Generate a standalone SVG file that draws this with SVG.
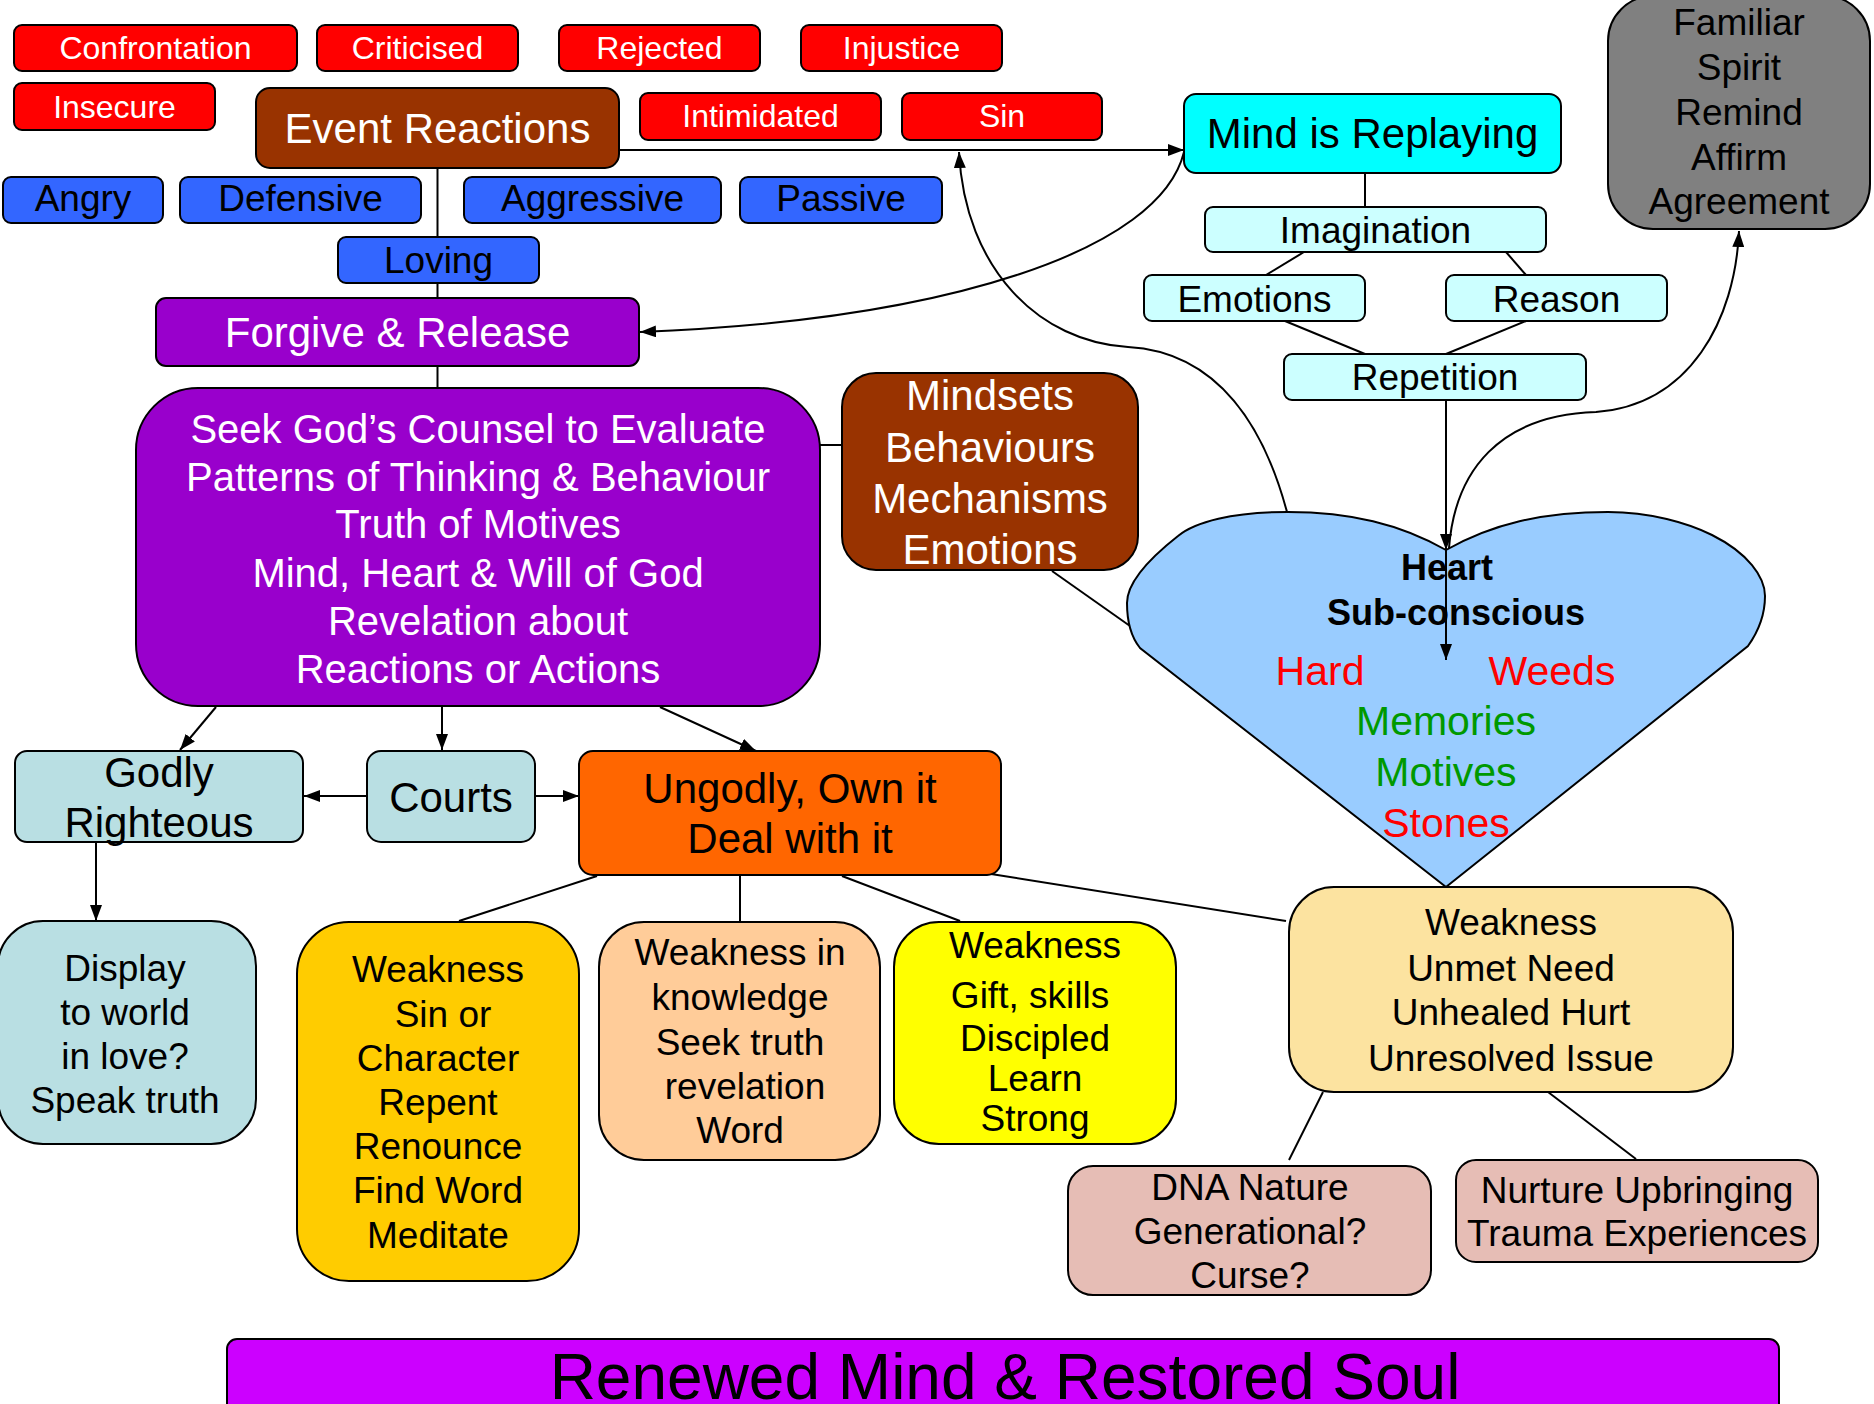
<svg xmlns="http://www.w3.org/2000/svg" width="1874" height="1404" viewBox="0 0 1874 1404">
<style>
.n{stroke:#000;stroke-width:2}
.t{font-family:"Liberation Sans",Arial,sans-serif;text-anchor:middle}
.w{fill:#fff}
.k{fill:#000}
.s32{font-size:32px}
.s37{font-size:37px}
.s40{font-size:40px}
.s42{font-size:42px}
.c{stroke:#000;stroke-width:2;fill:none}
.red{fill:#FF0000}
.blue{fill:#3366FF}
.lc{fill:#CCFFFF}
.tl{fill:#B9DFE3}
</style>
<defs>
<marker id="ah" viewBox="0 0 10 10" refX="10" refY="5" markerWidth="16" markerHeight="12" markerUnits="userSpaceOnUse" orient="auto" preserveAspectRatio="none"><path d="M0,0 L10,5 L0,10 z" fill="#000"/></marker>
</defs>
<rect width="1874" height="1404" fill="#fff"/>

<g id="connectors">
<line class="c" x1="437.5" y1="168" x2="437.5" y2="237"/>
<line class="c" x1="437.5" y1="283" x2="437.5" y2="298"/>
<line class="c" x1="437.5" y1="366" x2="437.5" y2="388"/>
<line class="c" x1="619" y1="150" x2="1184" y2="150" marker-end="url(#ah)"/>
<path class="c" d="M1184,152 C1160,250 950,320 640,332" marker-end="url(#ah)"/>
<path class="c" d="M1287,512 C1265,430 1220,352 1128,347 C1040,342 965,270 959,152" marker-end="url(#ah)"/>
<line class="c" x1="1365" y1="173" x2="1365" y2="207"/>
<line class="c" x1="1304" y1="252" x2="1266" y2="275"/>
<line class="c" x1="1506" y1="252" x2="1526" y2="275"/>
<line class="c" x1="1285" y1="321" x2="1365" y2="354"/>
<line class="c" x1="1526" y1="321" x2="1446" y2="354"/>
<line class="c" x1="1446" y1="400" x2="1446" y2="550" marker-end="url(#ah)"/>
<path class="c" d="M1449,548 C1455,470 1500,415 1596,412 C1690,405 1735,320 1739,231" marker-end="url(#ah)"/>
<line class="c" x1="820" y1="445" x2="842" y2="445"/>
<line class="c" x1="1052" y1="571" x2="1130" y2="626"/>
<line class="c" x1="216" y1="707" x2="180" y2="750" marker-end="url(#ah)"/>
<line class="c" x1="442" y1="707" x2="442" y2="750" marker-end="url(#ah)"/>
<line class="c" x1="660" y1="707" x2="756" y2="751" marker-end="url(#ah)"/>
<line class="c" x1="367" y1="796" x2="304" y2="796" marker-end="url(#ah)"/>
<line class="c" x1="535" y1="796" x2="579" y2="796" marker-end="url(#ah)"/>
<line class="c" x1="96" y1="842" x2="96" y2="921" marker-end="url(#ah)"/>
<line class="c" x1="597" y1="876" x2="459" y2="921"/>
<line class="c" x1="740" y1="876" x2="740" y2="921"/>
<line class="c" x1="842" y1="876" x2="960" y2="921"/>
<line class="c" x1="991" y1="874" x2="1286" y2="921"/>
<line class="c" x1="1323" y1="1092" x2="1289" y2="1160"/>
<line class="c" x1="1548" y1="1092" x2="1636" y2="1159"/>
</g>

<g id="confrontation"><rect class="n red" x="14" y="25" width="283" height="46" rx="8"/><text class="t w s32" x="155.5" y="59">Confrontation</text></g>
<g id="criticised"><rect class="n red" x="317" y="25" width="201" height="46" rx="8"/><text class="t w s32" x="417.5" y="59">Criticised</text></g>
<g id="rejected"><rect class="n red" x="559" y="25" width="201" height="46" rx="8"/><text class="t w s32" x="659.5" y="59">Rejected</text></g>
<g id="injustice"><rect class="n red" x="801" y="25" width="201" height="46" rx="8"/><text class="t w s32" x="901.5" y="59">Injustice</text></g>
<g id="insecure"><rect class="n red" x="14" y="83" width="201" height="47" rx="8"/><text class="t w s32" x="114.5" y="118">Insecure</text></g>
<g id="intimidated"><rect class="n red" x="640" y="93" width="241" height="47" rx="8"/><text class="t w s32" x="760.5" y="127">Intimidated</text></g>
<g id="sin"><rect class="n red" x="902" y="93" width="200" height="47" rx="8"/><text class="t w s32" x="1002" y="127">Sin</text></g>
<g id="event-reactions"><rect class="n" fill="#993300" x="256" y="88" width="363" height="80" rx="14"/><text class="t w s42" x="437.5" y="143">Event Reactions</text></g>

<g id="angry"><rect class="n blue" x="3" y="177" width="160" height="46" rx="8"/><text class="t k s37" x="83" y="211">Angry</text></g>
<g id="defensive"><rect class="n blue" x="180" y="177" width="241" height="46" rx="8"/><text class="t k s37" x="300.5" y="211">Defensive</text></g>
<g id="aggressive"><rect class="n blue" x="464" y="177" width="257" height="46" rx="8"/><text class="t k s37" x="592.5" y="211">Aggressive</text></g>
<g id="passive"><rect class="n blue" x="740" y="177" width="202" height="46" rx="8"/><text class="t k s37" x="841" y="211">Passive</text></g>
<g id="loving"><rect class="n blue" x="338" y="237" width="201" height="46" rx="8"/><text class="t k s37" x="438.5" y="273">Loving</text></g>

<g id="forgive-release"><rect class="n" fill="#9900CC" x="156" y="298" width="483" height="68" rx="10"/><text class="t w s42" x="397.5" y="347">Forgive &amp; Release</text></g>

<g id="mind-replaying"><rect class="n" fill="#00FFFF" x="1184" y="94" width="377" height="79" rx="12"/><text class="t k s42" x="1372.5" y="148">Mind is Replaying</text></g>
<g id="imagination"><rect class="n lc" x="1205" y="207" width="341" height="45" rx="8"/><text class="t k s37" x="1375.5" y="243">Imagination</text></g>
<g id="emotions"><rect class="n lc" x="1144" y="275" width="221" height="46" rx="8"/><text class="t k s37" x="1254.5" y="312">Emotions</text></g>
<g id="reason"><rect class="n lc" x="1446" y="275" width="221" height="46" rx="8"/><text class="t k s37" x="1556.5" y="312">Reason</text></g>
<g id="repetition"><rect class="n lc" x="1284" y="354" width="302" height="46" rx="8"/><text class="t k s37" x="1435" y="390">Repetition</text></g>

<g id="familiar-spirit"><rect class="n" fill="#808080" x="1608" y="-4" width="262" height="233" rx="45"/>
<text class="t k s37" x="1739" y="35">Familiar</text><text class="t k s37" x="1739" y="80">Spirit</text><text class="t k s37" x="1739" y="125">Remind</text><text class="t k s37" x="1739" y="170">Affirm</text><text class="t k s37" x="1739" y="214">Agreement</text></g>

<g id="seek-counsel"><rect class="n" fill="#9900CC" x="136" y="388" width="684" height="318" rx="62"/>
<text class="t w s40" x="478" y="443">Seek God’s Counsel to Evaluate</text>
<text class="t w s40" x="478" y="491">Patterns of Thinking &amp; Behaviour</text>
<text class="t w s40" x="478" y="538">Truth of Motives</text>
<text class="t w s40" x="478" y="587">Mind, Heart &amp; Will of God</text>
<text class="t w s40" x="478" y="635">Revelation about</text>
<text class="t w s40" x="478" y="683">Reactions or Actions</text></g>

<g id="mindsets"><rect class="n" fill="#993300" x="842" y="373" width="296" height="197" rx="34"/>
<text class="t w s42" x="990" y="410">Mindsets</text><text class="t w s42" x="990" y="462">Behaviours</text><text class="t w s42" x="990" y="513">Mechanisms</text><text class="t w s42" x="990" y="564">Emotions</text></g>

<g id="heart"><path class="n" fill="#99CCFF" d="M1446,550 C1400,524 1350,512 1288,512 C1232,512 1195,522 1178,536 C1150,558 1127,582 1127,603 C1127,622 1132,638 1140,648 L1446,887 L1748,646 C1758,632 1765,614 1765,596 C1765,577 1748,553 1712,535 C1688,523 1650,512 1608,512 C1542,512 1492,524 1446,550 Z"/>
<text class="t k" style="font-size:36px;font-weight:bold" x="1447" y="580">Heart</text>
<text class="t k" style="font-size:36px;font-weight:bold" x="1456" y="625">Sub-conscious</text>
<text class="t" style="font-size:41px" fill="#FF0000" x="1320" y="685">Hard</text>
<text class="t" style="font-size:41px" fill="#FF0000" x="1552" y="685">Weeds</text>
<text class="t" style="font-size:41px" fill="#009900" x="1446" y="735">Memories</text>
<text class="t" style="font-size:41px" fill="#009900" x="1446" y="786">Motives</text>
<text class="t" style="font-size:41px" fill="#FF0000" x="1446" y="837">Stones</text></g>

<g id="connectors-over-heart">
<line class="c" x1="1446" y1="550" x2="1446" y2="660" marker-end="url(#ah)"/>
</g>

<g id="godly"><rect class="n tl" x="15" y="751" width="288" height="91" rx="12"/><text class="t k s42" x="159" y="787">Godly</text><text class="t k s42" x="159" y="837">Righteous</text></g>
<g id="courts"><rect class="n tl" x="367" y="751" width="168" height="91" rx="14"/><text class="t k s42" x="451" y="812">Courts</text></g>
<g id="ungodly"><rect class="n" fill="#FF6600" x="579" y="751" width="422" height="124" rx="14"/><text class="t k s42" x="790" y="803">Ungodly, Own it</text><text class="t k s42" x="790" y="853">Deal with it</text></g>

<g id="display-world"><rect class="n tl" x="-2" y="921" width="258" height="223" rx="45"/>
<text class="t k s37" x="125" y="981">Display</text><text class="t k s37" x="125" y="1025">to world</text><text class="t k s37" x="125" y="1069">in love?</text><text class="t k s37" x="125" y="1113">Speak truth</text></g>

<g id="weakness-sin"><rect class="n" fill="#FFCC00" x="297" y="922" width="282" height="359" rx="52"/>
<text class="t k s37" x="438" y="982">Weakness</text><text class="t k s37" x="443" y="1027">Sin or</text><text class="t k s37" x="438" y="1071">Character</text><text class="t k s37" x="438" y="1115">Repent</text><text class="t k s37" x="438" y="1159">Renounce</text><text class="t k s37" x="438" y="1203">Find Word</text><text class="t k s37" x="438" y="1248">Meditate</text></g>

<g id="weakness-knowledge"><rect class="n" fill="#FFCC99" x="599" y="922" width="281" height="238" rx="45"/>
<text class="t k s37" x="740" y="965">Weakness in</text><text class="t k s37" x="740" y="1010">knowledge</text><text class="t k s37" x="740" y="1055">Seek truth</text><text class="t k s37" x="745" y="1099">revelation</text><text class="t k s37" x="740" y="1143">Word</text></g>

<g id="weakness-gift"><rect class="n" fill="#FFFF00" x="894" y="922" width="282" height="222" rx="45"/>
<text class="t k s37" x="1035" y="958">Weakness</text><text class="t k s37" x="1030" y="1008">Gift, skills</text><text class="t k s37" x="1035" y="1051">Discipled</text><text class="t k s37" x="1035" y="1091">Learn</text><text class="t k s37" x="1035" y="1131">Strong</text></g>

<g id="weakness-unmet"><rect class="n" fill="#FCE3A0" x="1289" y="887" width="444" height="205" rx="45"/>
<text class="t k s37" x="1511" y="935">Weakness</text><text class="t k s37" x="1511" y="981">Unmet Need</text><text class="t k s37" x="1511" y="1025">Unhealed Hurt</text><text class="t k s37" x="1511" y="1071">Unresolved Issue</text></g>

<g id="dna-nature"><rect class="n" fill="#E6BDB5" x="1068" y="1166" width="363" height="129" rx="25"/>
<text class="t k s37" x="1250" y="1200">DNA Nature</text><text class="t k s37" x="1250" y="1244">Generational?</text><text class="t k s37" x="1250" y="1288">Curse?</text></g>

<g id="nurture"><rect class="n" fill="#E6BDB5" x="1456" y="1160" width="362" height="102" rx="20"/>
<text class="t k s37" x="1637" y="1203">Nurture Upbringing</text><text class="t k s37" x="1637" y="1246">Trauma Experiences</text></g>

<g id="renewed"><rect class="n" fill="#CC00FF" x="227" y="1339" width="1552" height="80" rx="10"/>
<text class="t k" style="font-size:64px" x="1005" y="1399">Renewed Mind &amp; Restored Soul</text></g>
</svg>
